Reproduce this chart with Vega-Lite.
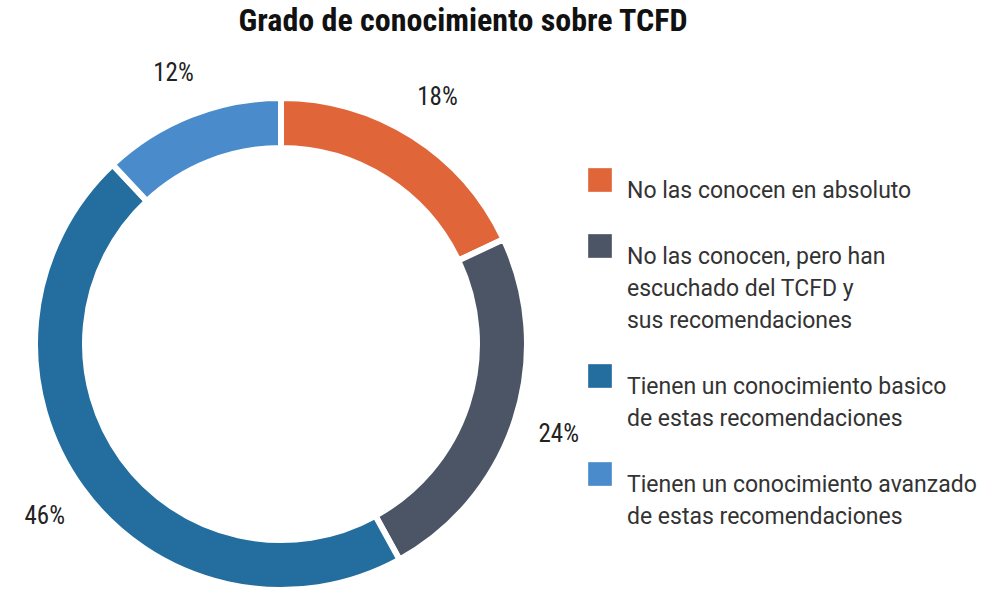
{
  "$schema": "https://vega.github.io/schema/vega-lite/v6.json",
  "autosize": "none",
  "width": 562,
  "height": 500,
  "padding": {"left": 0, "top": 94, "right": 419, "bottom": 0},
  "background": "white",
  "config": {
    "style": {"guide-label": {"lineHeight": 32}}
  },
  "title": {
    "text": "Grado de conocimiento sobre TCFD",
    "font": "Roboto Condensed, Liberation Sans Narrow, Roboto, sans-serif",
    "fontSize": 32,
    "fontWeight": "bold",
    "color": "#111111",
    "anchor": "middle",
    "dx": 182,
    "offset": 23
  },
  "data": {
    "values": [
      {"categoria": "No las conocen en absoluto", "valor": 0.18, "orden": 1},
      {"categoria": "No las conocen, pero han escuchado del TCFD y sus recomendaciones", "valor": 0.24, "orden": 2},
      {"categoria": "Tienen un conocimiento basico de estas recomendaciones", "valor": 0.46, "orden": 3},
      {"categoria": "Tienen un conocimiento avanzado de estas recomendaciones", "valor": 0.12, "orden": 4}
    ]
  },
  "encoding": {
    "theta": {"field": "valor", "type": "quantitative", "stack": true},
    "order": {"field": "orden", "type": "quantitative"}
  },
  "layer": [
    {
      "mark": {"type": "arc", "outerRadius": 246, "innerRadius": 196, "stroke": "white", "strokeWidth": 6},
      "encoding": {
        "color": {
          "field": "categoria",
          "type": "nominal",
          "scale": {
            "domain": [
              "No las conocen en absoluto",
              "No las conocen, pero han escuchado del TCFD y sus recomendaciones",
              "Tienen un conocimiento basico de estas recomendaciones",
              "Tienen un conocimiento avanzado de estas recomendaciones"
            ],
            "range": ["#E0663A", "#4B5565", "#236E9E", "#4A8BCB"]
          },
          "legend": {
            "title": null,
            "orient": "none",
            "legendX": 588,
            "legendY": 74,
            "symbolType": "square",
            "symbolSize": 560,
            "symbolStrokeWidth": 0,
            "symbolOpacity": 1,
            "labelFont": "Roboto",
            "labelFontSize": 23,
            "labelColor": "#333333",
            "labelLimit": 400,
            "labelOffset": 15,
            "labelBaseline": "top",
            "rowPadding": 31,
            "labelExpr": "datum.label == 'No las conocen, pero han escuchado del TCFD y sus recomendaciones' ? ['No las conocen, pero han', 'escuchado del TCFD y', 'sus recomendaciones'] : datum.label == 'Tienen un conocimiento basico de estas recomendaciones' ? ['Tienen un conocimiento basico', 'de estas recomendaciones'] : datum.label == 'Tienen un conocimiento avanzado de estas recomendaciones' ? ['Tienen un conocimiento avanzado', 'de estas recomendaciones'] : datum.label",
            "encode": {
              "labels": {
                "enter": {"lineHeight": {"value": 32}},
                "update": {"lineHeight": {"value": 32}, "dy": {"value": -18}}
              }
            }
          }
        }
      }
    },
    {
      "mark": {"type": "text", "radius": 292, "fontSize": 25, "font": "Roboto Condensed, Liberation Sans Narrow, Roboto, sans-serif", "fill": "#222222"},
      "encoding": {
        "detail": {"field": "categoria", "type": "nominal"},
        "text": {"field": "valor", "type": "quantitative", "format": ".0%"}
      }
    }
  ]
}
